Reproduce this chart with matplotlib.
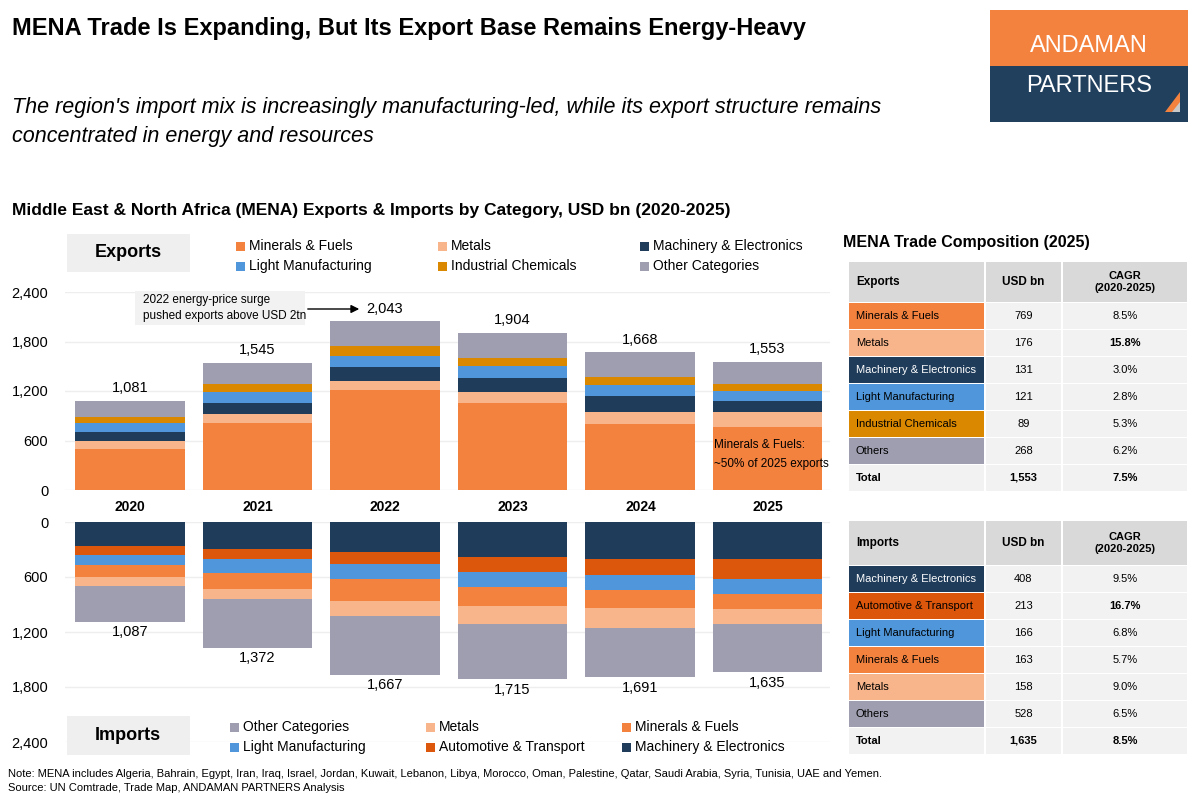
import matplotlib
matplotlib.use("Agg")
import matplotlib.pyplot as plt
from matplotlib.patches import Rectangle, Polygon
import numpy as np

plt.rcParams['font.family'] = ['Liberation Sans', 'DejaVu Sans']

years = ["2020", "2021", "2022", "2023", "2024", "2025"]
# Exports (USD bn)
exp_minerals = [500, 814, 1213, 1050, 794, 769]
exp_metals = [90, 110, 114, 138, 154, 176]
exp_machinery = [110, 134, 159, 171, 196, 131]
exp_light = [114, 134, 142, 139, 134, 121]
exp_chem = [73, 98, 122, 97, 86, 89]
exp_other = [194, 255, 293, 309, 304, 268]
exp_totals = [1081, 1545, 2043, 1904, 1668, 1553]
# Imports (USD bn)
imp_machinery = [262, 295, 328, 383, 404, 408]
imp_auto = [99, 113, 131, 164, 179, 213]
imp_light = [113, 149, 164, 167, 160, 166]
imp_minerals = [127, 179, 241, 204, 197, 163]
imp_metals = [102, 109, 164, 193, 219, 158]
imp_other = [384, 527, 639, 604, 532, 528]
imp_totals = [1087, 1372, 1667, 1715, 1691, 1635]

# Tables
exp_tab_labels = ["Minerals & Fuels", "Metals", "Machinery & Electronics", "Light Manufacturing", "Industrial Chemicals", "Others", "Total"]
exp_tab_usd = ["769", "176", "131", "121", "89", "268", "1,553"]
exp_tab_cagr = ["8.5%", "15.8%", "3.0%", "2.8%", "5.3%", "6.2%", "7.5%"]
imp_tab_labels = ["Machinery & Electronics", "Automotive & Transport", "Light Manufacturing", "Minerals & Fuels", "Metals", "Others", "Total"]
imp_tab_usd = ["408", "213", "166", "163", "158", "528", "1,635"]
imp_tab_cagr = ["9.5%", "16.7%", "6.8%", "5.7%", "9.0%", "6.5%", "8.5%"]

C_MIN = "#F4823F"; C_MET = "#F8B48A"; C_MAC = "#1F3C5A"; C_LIG = "#4F97DA"
C_CHE = "#D98800"; C_OTH = "#9E9EB0"; C_AUT = "#DC560C"

W, H = 1200, 800
fig = plt.figure(figsize=(12, 8), dpi=100)
fig.patch.set_facecolor("white")

def fx(x): return x / W
def fy(y): return 1 - y / H

def frect(x0, y0, x1, y1, color, **kw):
    fig.patches.append(Rectangle((fx(x0), fy(y1)), fx(x1 - x0), (y1 - y0) / H,
                                 transform=fig.transFigure, facecolor=color, edgecolor="none",
                                 lw=0, zorder=kw.get("z", 1)))

def ftext(x, y, s, **kw):
    fig.text(fx(x), fy(y), s, **kw)

# Titles
ftext(12, 28, "MENA Trade Is Expanding, But Its Export Base Remains Energy-Heavy", fontsize=17, fontweight="bold", va="center")
ftext(12, 122, "The region's import mix is increasingly manufacturing-led, while its export structure remains\nconcentrated in energy and resources",
      fontsize=15.5, style="italic", va="center", linespacing=1.5)
ftext(12, 210, "Middle East & North Africa (MENA) Exports & Imports by Category, USD bn (2020-2025)", fontsize=12.5, fontweight="bold", va="center")

# Logo
frect(990, 10, 1188, 66, "#F4823F")
frect(990, 66, 1188, 122, "#21405E")
ftext(1089, 46, "ANDAMAN", color="white", fontsize=17, ha="center", va="center")
ftext(1089, 86, "PARTNERS", color="white", fontsize=17, ha="center", va="center")
fig.patches.append(Polygon([(fx(1165), fy(112)), (fx(1180), fy(112)), (fx(1180), fy(92))], closed=True,
                           transform=fig.transFigure, facecolor="#F4823F", edgecolor="none"))
fig.patches.append(Polygon([(fx(1172), fy(112)), (fx(1180), fy(112)), (fx(1180), fy(102))], closed=True,
                           transform=fig.transFigure, facecolor="#C9C9C9", edgecolor="none"))

x = np.arange(len(years))
bw = 0.86

# Exports axes
ax1 = fig.add_axes([fx(65), fy(490), fx(765), 198 / H])
bottom = np.zeros(6)
for vals, c in [(exp_minerals, C_MIN), (exp_metals, C_MET), (exp_machinery, C_MAC), (exp_light, C_LIG), (exp_chem, C_CHE), (exp_other, C_OTH)]:
    ax1.bar(x, vals, bw, bottom=bottom, color=c, zorder=3)
    bottom += np.array(vals)
for i, t in enumerate(exp_totals):
    ax1.text(i, t + 70, f"{t:,}", ha="center", va="bottom", fontsize=10.5)
ax1.set_ylim(0, 2400)
ax1.set_xlim(-0.51, 5.49)
ax1.set_yticks([0, 600, 1200, 1800, 2400])
ax1.set_yticklabels(["0", "600", "1,200", "1,800", "2,400"])
ax1.grid(axis="y", color="#EEEEEE", lw=1, zorder=0)
ax1.set_xticks([])
for s in ax1.spines.values(): s.set_visible(False)
ax1.tick_params(axis="y", length=0, labelsize=10.5, pad=12)
ax1.text(4.58, 430, "Minerals & Fuels:\n~50% of 2025 exports", ha="left", va="center", fontsize=8.5, linespacing=1.7, zorder=5)

# Imports axes
ax2 = fig.add_axes([fx(65), fy(742), fx(765), 220 / H])
bottom = np.zeros(6)
for vals, c in [(imp_machinery, C_MAC), (imp_auto, C_AUT), (imp_light, C_LIG), (imp_minerals, C_MIN), (imp_metals, C_MET), (imp_other, C_OTH)]:
    ax2.bar(x, vals, bw, bottom=bottom, color=c, zorder=3)
    bottom += np.array(vals)
for i, t in enumerate(imp_totals):
    ax2.text(i, t + 40, f"{t:,}", ha="center", va="top", fontsize=10.5)
ax2.set_ylim(2400, 0)
ax2.set_xlim(-0.51, 5.49)
ax2.set_yticks([0, 600, 1200, 1800, 2400])
ax2.set_yticklabels(["0", "600", "1,200", "1,800", "2,400"])
ax2.grid(axis="y", color="#EEEEEE", lw=1, zorder=0)
ax2.set_xticks([])
for s in ax2.spines.values(): s.set_visible(False)
ax2.tick_params(axis="y", length=0, labelsize=10.5, pad=12)

# Year labels
for i, yv in enumerate(years):
    ftext(130 + i * 127.6, 507, yv, ha="center", va="center", fontsize=10, fontweight="bold")

# Annotation 2022
frect(135, 291, 305, 325, "#F2F2F2", z=2)
ftext(143, 308, "2022 energy-price surge\npushed exports above USD 2tn", fontsize=8.5, va="center", linespacing=1.5, zorder=3)
fig.add_artist(matplotlib.patches.FancyArrowPatch((fx(305), fy(309)), (fx(362), fy(309)), transform=fig.transFigure,
                                                  arrowstyle="-|>", mutation_scale=12, color="black", lw=1))

# Legends
frect(67, 234, 190, 272, "#EFEFEF")
ftext(128, 253, "Exports", fontsize=13, fontweight="bold", ha="center", va="center")
exp_leg = [("Minerals & Fuels", C_MIN, 236, 246), ("Metals", C_MET, 438, 246), ("Machinery & Electronics", C_MAC, 640, 246),
           ("Light Manufacturing", C_LIG, 236, 266), ("Industrial Chemicals", C_CHE, 438, 266), ("Other Categories", C_OTH, 640, 266)]
frect(67, 716, 190, 755, "#EFEFEF")
ftext(128, 736, "Imports", fontsize=13, fontweight="bold", ha="center", va="center")
imp_leg = [("Other Categories", C_OTH, 230, 727), ("Metals", C_MET, 426, 727), ("Minerals & Fuels", C_MIN, 622, 727),
           ("Light Manufacturing", C_LIG, 230, 747), ("Automotive & Transport", C_AUT, 426, 747), ("Machinery & Electronics", C_MAC, 622, 747)]
for lab, c, lx, ly in exp_leg + imp_leg:
    frect(lx, ly - 4.5, lx + 9, ly + 4.5, c)
    ftext(lx + 13, ly, lab, fontsize=10, va="center")

# Tables
def draw_table(title_y, hdr_y0, hdr_y1, first_col, labels, usd, cagr, colors, bold_idx):
    x0, x1, x2, x3 = 848, 985, 1062, 1188
    if title_y is not None:
        ftext(843, title_y, "MENA Trade Composition (2025)", fontsize=11.5, fontweight="bold", va="center")
    for (a, b) in [(x0, x1), (x1, x2), (x2, x3)]:
        frect(a + 1, hdr_y0, b - 1, hdr_y1, "#D9D9D9")
    hm = (hdr_y0 + hdr_y1) / 2
    ftext(x0 + 8, hm, first_col, fontsize=8.5, fontweight="bold", va="center")
    ftext((x1 + x2) / 2, hm, "USD bn", fontsize=8.5, fontweight="bold", va="center", ha="center")
    ftext((x2 + x3) / 2, hm, "CAGR\n(2020-2025)", fontsize=8, fontweight="bold", va="center", ha="center", linespacing=1.3)
    rh = 27
    for r, lab in enumerate(labels):
        ya = hdr_y1 + 1 + r * rh
        yb = ya + rh - 1.5
        ym = (ya + yb) / 2
        total = lab == "Total"
        c = colors[r] if not total else "#F2F2F2"
        frect(x0 + 1, ya, x1 - 1, yb, c)
        frect(x1 + 1, ya, x2 - 1, yb, "#F2F2F2")
        frect(x2 + 1, ya, x3 - 1, yb, "#F2F2F2")
        tc = "white" if c == C_MAC else "black"
        ftext(x0 + 8, ym, lab, fontsize=8, va="center", color=tc, fontweight="bold" if total else "normal")
        ftext((x1 + x2) / 2, ym, usd[r], fontsize=8, va="center", ha="center", fontweight="bold" if total else "normal")
        ftext((x2 + x3) / 2, ym, cagr[r], fontsize=8, va="center", ha="center",
              fontweight="bold" if (total or r == bold_idx) else "normal")

draw_table(243, 262, 302, "Exports", exp_tab_labels, exp_tab_usd, exp_tab_cagr,
           [C_MIN, C_MET, C_MAC, C_LIG, C_CHE, C_OTH, None], 1)
draw_table(None, 521, 565, "Imports", imp_tab_labels, imp_tab_usd, imp_tab_cagr,
           [C_MAC, C_AUT, C_LIG, C_MIN, C_MET, C_OTH, None], 1)

ftext(8, 774, "Note: MENA includes Algeria, Bahrain, Egypt, Iran, Iraq, Israel, Jordan, Kuwait, Lebanon, Libya, Morocco, Oman, Palestine, Qatar, Saudi Arabia, Syria, Tunisia, UAE and Yemen.",
      fontsize=8, va="center")
ftext(8, 788, "Source: UN Comtrade, Trade Map, ANDAMAN PARTNERS Analysis", fontsize=8, va="center")

fig.savefig("out.png", dpi=100)
